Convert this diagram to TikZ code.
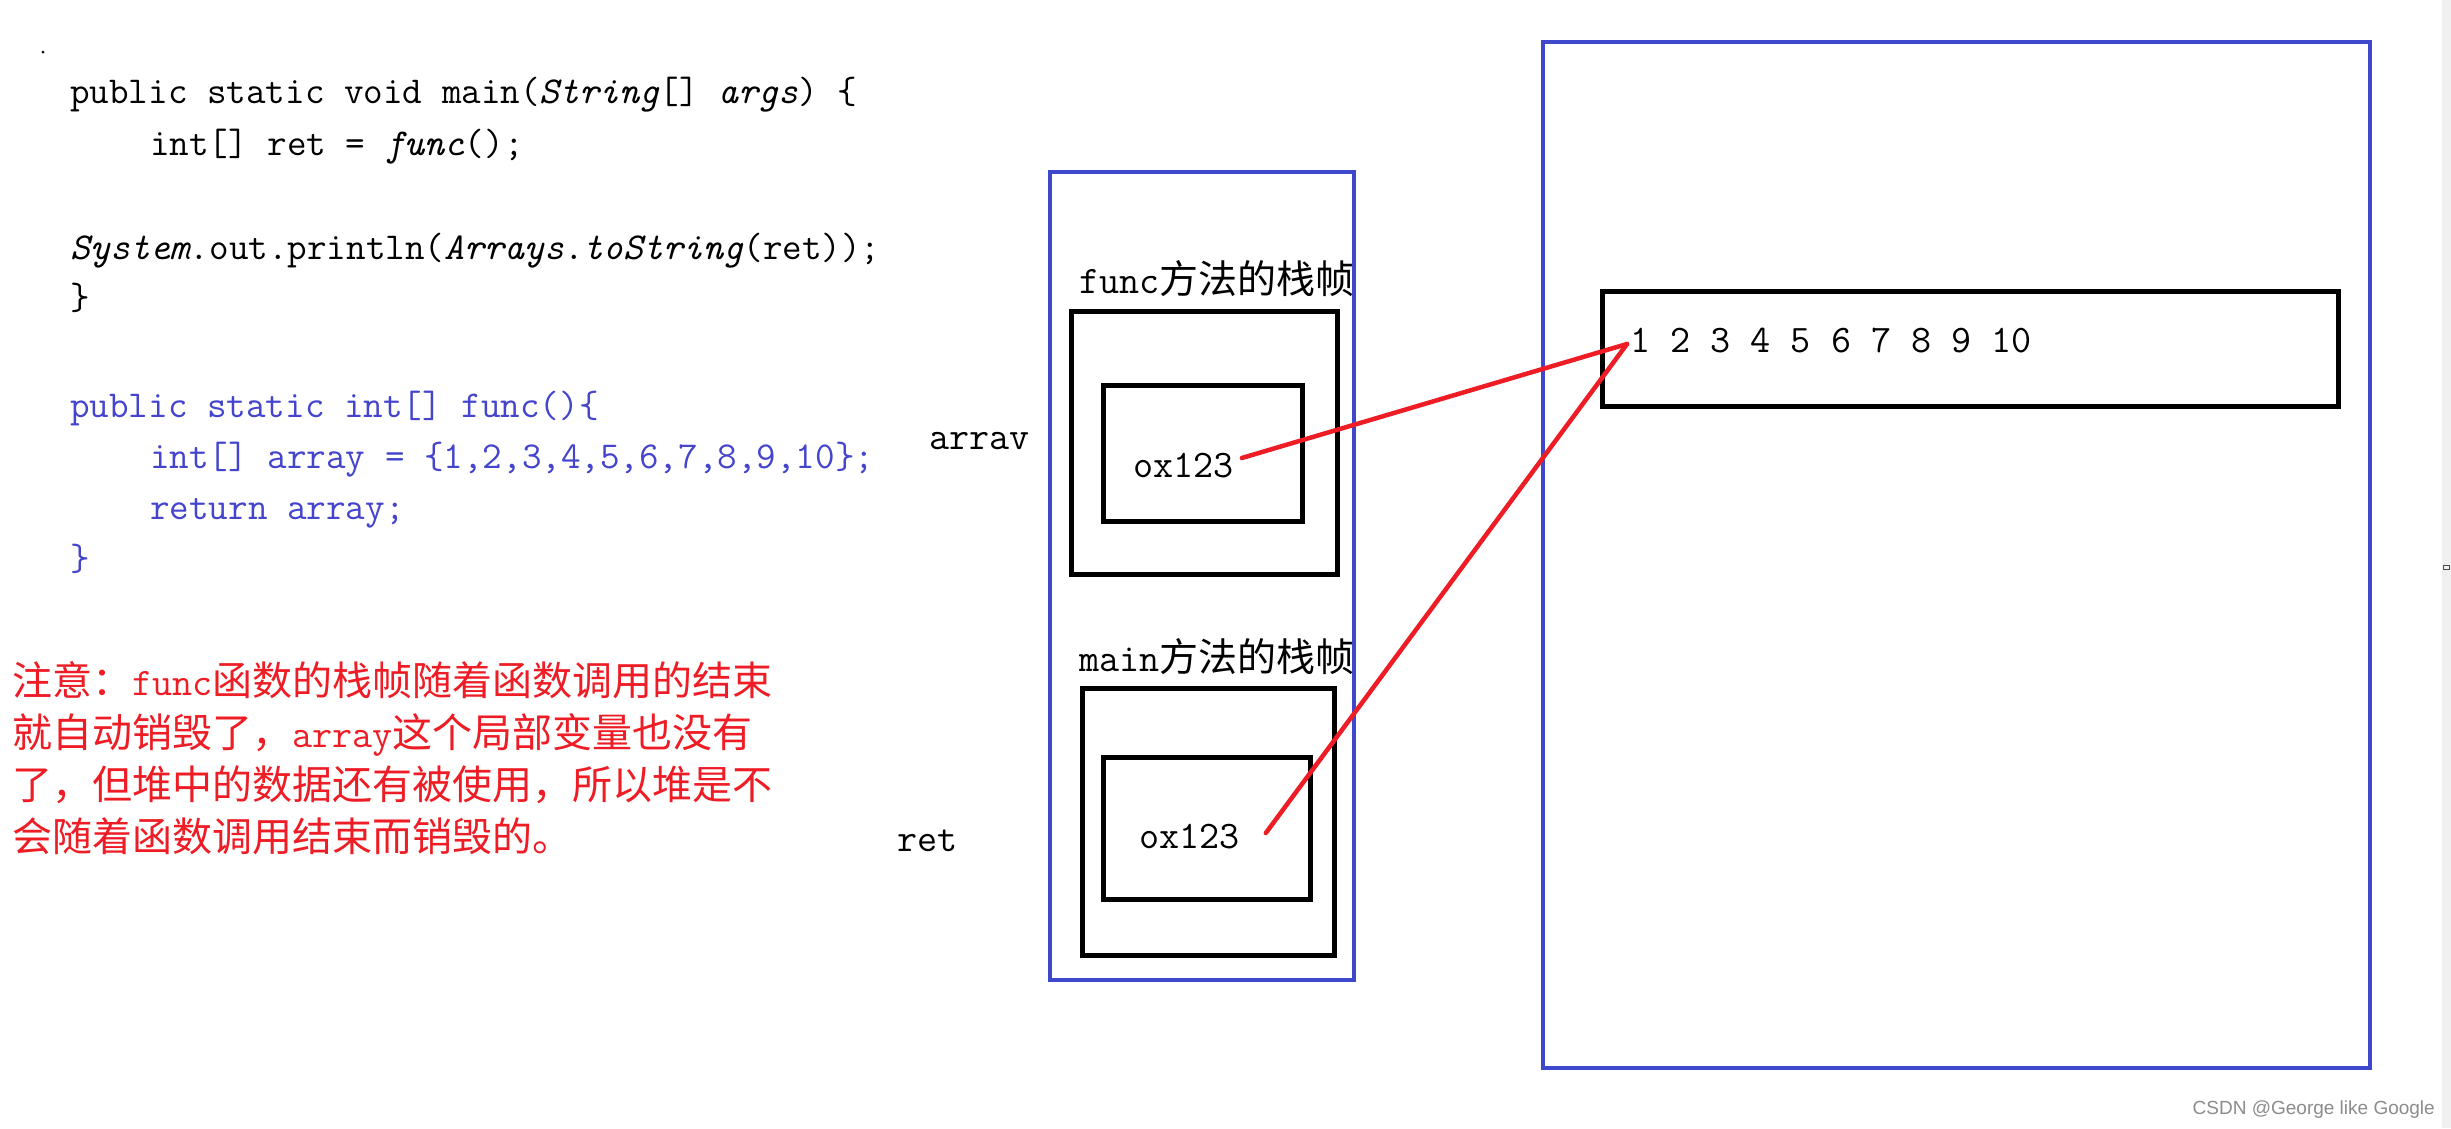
\documentclass[tikz,border=0pt]{standalone}
\usepackage{fontspec}
\newfontfamily\cjk{Noto Sans CJK SC}
\newfontfamily\wmfont{Liberation Sans}
\definecolor{heapblue}{HTML}{3F48CC}
\definecolor{codeblue}{HTML}{4444CC}
\definecolor{notered}{HTML}{EE1C25}
\begin{document}
\begin{tikzpicture}[x=1pt,y=-1pt,
  codetxt/.style={anchor=base west, inner sep=0pt, font=\fontsize{38}{46}\selectfont\ttfamily},
  notetxt/.style={anchor=base west, inner sep=0pt, text=notered, font=\fontsize{40}{48}\selectfont\cjk},
  lbl/.style={anchor=base west, inner sep=0pt, font=\fontsize{39}{46}\selectfont\ttfamily},
  bluebox/.style={draw=heapblue, line width=4.5pt, inner sep=0pt},
  blackbox/.style={draw=black, line width=5pt, inner sep=0pt},
  redline/.style={draw=notered, line width=4.5pt, line cap=round}]
\fill[white] (0,0) rectangle (2451,1128);
\useasboundingbox (0,0) rectangle (2451,1128);
\fill[black!6] (2442,0) rectangle (2451,1128);
\draw[black!70, line width=1pt] (2443,565) rectangle (2449,569);
\fill[black] (43,52) circle (1.5);

% code
\node[codetxt] (c1) at (70,103) {public static void main(\textit{String}[] \textit{args}) \{};
\node[codetxt] (c2) at (150,155) {int[] ret = \textit{func}();};
\node[codetxt] (c3) at (70,259) {\textit{System}.out.println(\textit{Arrays}.\textit{toString}(ret));};
\node[codetxt] (c4) at (70,309) {\}};
\node[codetxt, text=codeblue] (c5) at (70,417) {public static int[] func()\{};
\node[codetxt, text=codeblue] (c6) at (150,468) {int[] array = \{1,2,3,4,5,6,7,8,9,10\};};
\node[codetxt, text=codeblue] (c7) at (150,519) {return array;};
\node[codetxt, text=codeblue] (c8) at (70,570) {\}};

% note
\node[notetxt] (n1) at (12,695) {注意：{\ttfamily\fontsize{39}{46}\selectfont func}函数的栈帧随着函数调用的结束};
\node[notetxt] (n2) at (12,747) {就自动销毁了，{\ttfamily\fontsize{39}{46}\selectfont array}这个局部变量也没有};
\node[notetxt] (n3) at (12,799) {了，但堆中的数据还有被使用，所以堆是不};
\node[notetxt] (n4) at (12,851) {会随着函数调用结束而销毁的。};

% stack
\node[bluebox, minimum width=304pt, minimum height=808pt] (stack) at (1202,576) {};
\node[lbl] (flabel) at (1079,293) {func{\cjk 方法的栈帧}};
\node[blackbox, minimum width=266pt, minimum height=263pt] (fouter) at (1204.5,442.5) {};
\node[blackbox, minimum width=199pt, minimum height=136pt] (finner) at (1203,453) {};
\node[lbl] (ox1) at (1133,477) {ox123};
\node[lbl] (arrav) at (929,449) {arrav};

\node[lbl] (mlabel) at (1079,671) {main{\cjk 方法的栈帧}};
\node[blackbox, minimum width=252pt, minimum height=267pt] (mouter) at (1208,822) {};
\node[blackbox, minimum width=207pt, minimum height=142pt] (minner) at (1206.5,828) {};
\node[lbl] (ox2) at (1139,848) {ox123};
\node[lbl] (ret) at (897,851) {ret};

% heap
\node[bluebox, minimum width=827pt, minimum height=1026pt] (heap) at (1956.5,555) {};
\node[blackbox, minimum width=736pt, minimum height=115pt] (arr) at (1970,348.5) {};
\node[lbl] (nums) at (1630,352) {1 2 3 4 5 6 7 8 9 10};

% references
\draw[redline] ([shift={(8,-19)}]ox1.base east) -- ([shift={(-3,-8)}]nums.base west);
\draw[redline] ([shift={(26,-15)}]ox2.base east) -- ([shift={(-3,-8)}]nums.base west);

% watermark
\node[anchor=base east, inner sep=0pt, text=black!45, font=\fontsize{19}{22}\selectfont\wmfont] (wm) at (2435,1114) {CSDN @George like Google};
\end{tikzpicture}
\end{document}
